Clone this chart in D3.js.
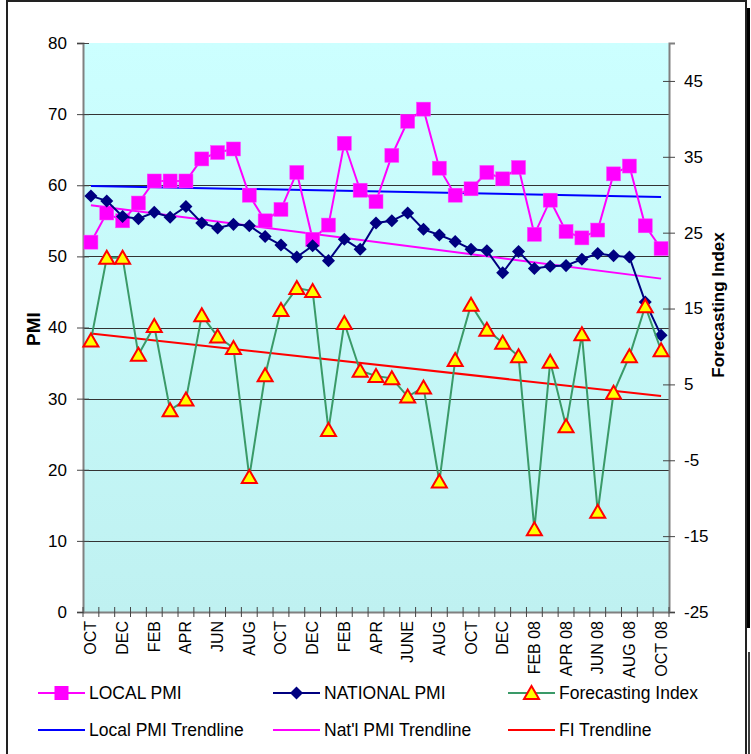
<!DOCTYPE html>
<html><head><meta charset="utf-8">
<script src="https://cdn.jsdelivr.net/npm/d3@7"></script>
<style>body{margin:0;background:#fff}svg{display:block;font-family:"Liberation Sans",Arial,sans-serif}</style>
</head><body><svg id="c" width="751" height="754"></svg>
<script>
const categories = ["OCT","NOV","DEC","JAN","FEB","MAR","APR","MAY","JUN","JUL","AUG","SEP",
  "OCT","NOV","DEC","JAN","FEB","MAR","APR","MAY","JUNE","JUL","AUG","SEP",
  "OCT","NOV","DEC","JAN 08","FEB 08","MAR 08","APR 08","MAY 08","JUN 08","JUL 08","AUG 08","SEP 08","OCT 08"];
const localPMI = [52.0,56.1,55.0,57.5,60.6,60.6,60.6,63.7,64.6,65.1,58.6,55.0,56.6,61.8,52.4,54.4,65.9,59.3,57.7,
  64.2,69.0,70.7,62.4,58.6,59.5,61.8,60.9,62.5,53.1,57.9,53.5,52.6,53.7,61.6,62.7,54.3,51.1];
const nationalPMI = [58.5,57.8,55.6,55.3,56.2,55.5,57.0,54.7,54.0,54.5,54.3,52.8,51.6,49.9,51.5,49.4,52.4,51.0,54.7,
  55.0,56.1,53.8,53.0,52.1,51.0,50.8,47.7,50.7,48.3,48.6,48.7,49.6,50.4,50.1,49.9,43.6,38.9];
const forecastIndex = [10.8,21.7,21.7,8.9,12.7,1.6,3.0,14.1,11.3,9.8,-7.2,6.2,14.8,17.7,17.3,-1.0,13.1,6.8,6.1,
  5.8,3.4,4.6,-7.8,8.2,15.5,12.2,10.5,8.7,-14.1,8.0,-0.5,11.6,-11.8,3.9,8.7,15.3,9.5];
const leftTicks = [0,10,20,30,40,50,60,70,80];
const rightTicks = [-25,-15,-5,5,15,25,35,45];

const svg = d3.select("#c");
const L = 83, R = 669, T = 43, B = 612;
const x = d3.scaleBand().domain(d3.range(categories.length)).range([L, R]);
const cx = i => x(i) + x.bandwidth()/2;
const yL = d3.scaleLinear().domain([0,80]).range([B,T]);
const yR = d3.scaleLinear().domain([-25,50]).range([B,T]);

// background
const defs = svg.append("defs");
const g = defs.append("linearGradient").attr("id","bg").attr("x1",0).attr("x2",0).attr("y1",0).attr("y2",1);
g.append("stop").attr("offset","0%").attr("stop-color","#ccffff");
g.append("stop").attr("offset","100%").attr("stop-color","#bff1f1");
svg.append("rect").attr("x",L).attr("y",T).attr("width",R-L).attr("height",B-T).attr("fill","url(#bg)");

// outer border + shadow
svg.append("rect").attr("x",7).attr("y",1).attr("width",739).attr("height",770).attr("fill","none").attr("stroke","#222").attr("stroke-width",2);
svg.append("rect").attr("x",747).attr("y",8).attr("width",3).attr("height",620).attr("fill","#000");
svg.append("line").attr("x1",749).attr("x2",749).attr("y1",652).attr("y2",754).attr("stroke","#000").attr("stroke-width",1.5);

// gridlines
svg.append("g").selectAll("line").data(leftTicks.filter(d=>d>0&&d<80)).join("line")
  .attr("x1",L).attr("x2",R).attr("y1",d=>Math.round(yL(d))+0.5).attr("y2",d=>Math.round(yL(d))+0.5)
  .attr("stroke","#333").attr("stroke-width",1);

// axes
const fmt = d => String(d);
const axL = svg.append("g").attr("transform",`translate(${L},0)`)
  .call(d3.axisLeft(yL).tickValues(leftTicks).tickFormat(fmt).tickSize(6).tickPadding(10));
axL.selectAll(".tick line").attr("x2",6).attr("x1",-6).attr("stroke","#444");
const axR = svg.append("g").attr("transform",`translate(${R},0)`)
  .call(d3.axisRight(yR).tickValues(rightTicks).tickFormat(fmt).tickSize(6).tickPadding(9));
axR.selectAll(".tick line").attr("x1",-6).attr("x2",6).attr("stroke","#444");
const axB = svg.append("g").attr("transform",`translate(0,${B})`)
  .call(d3.axisBottom(x).tickValues([]).tickSizeOuter(0));
axB.selectAll("line.bt").data(d3.range(categories.length+1)).join("line").attr("class","bt")
  .attr("x1",i=>L + i*x.bandwidth()).attr("x2",i=>L + i*x.bandwidth()).attr("y1",-5).attr("y2",5).attr("stroke","#444");
[axL,axR,axB].forEach(a=>{a.select(".domain").attr("stroke","#808080").attr("stroke-width",2);
  a.selectAll("text").attr("font-size",17).attr("fill","#000").attr("font-family","'Liberation Sans',Arial,sans-serif");});
axB.selectAll(".xl").data(d3.range(0,categories.length,2)).join("text").attr("class","xl")
  .attr("transform",i=>`translate(${cx(i)+5.5},${621-B}) rotate(-90)`)
  .attr("text-anchor","end").attr("font-size",16).attr("fill","#000").text(i=>categories[i]);

// axis titles
svg.append("text").attr("transform","translate(40,329) rotate(-90)").attr("text-anchor","middle")
  .attr("font-weight","bold").attr("font-size",19).text("PMI");
svg.append("text").attr("transform","translate(724,305) rotate(-90)").attr("text-anchor","middle")
  .attr("font-weight","bold").attr("font-size",17).text("Forecasting Index");

// trendlines (least squares)
function trend(vals){
  const n=vals.length, xs=d3.range(n), mx=d3.mean(xs), my=d3.mean(vals);
  const b=d3.sum(xs,(xi)=> (xi-mx)*(vals[xi]-my))/d3.sum(xs,xi=>(xi-mx)**2);
  const a=my-b*mx; return [[0,a],[n-1,a+b*(n-1)]];
}
const tl = (vals,ys,color)=>svg.append("path").datum(trend(vals))
  .attr("d",d3.line().x(d=>cx(d[0])).y(d=>ys(d[1]))).attr("stroke",color).attr("stroke-width",2).attr("fill","none");
tl(localPMI,yL,"#0000ff");
tl(nationalPMI,yL,"#ff00ff");
tl(forecastIndex,yR,"#ff0000");

const idx = d3.range(categories.length);
function series(vals,ys,color){
  svg.append("path").datum(idx).attr("d",d3.line().x(i=>cx(i)).y(i=>ys(vals[i])))
    .attr("stroke",color).attr("stroke-width",2).attr("fill","none");
}
series(localPMI,yL,"#ff00ff");
svg.append("g").selectAll("rect").data(idx).join("rect")
  .attr("x",i=>cx(i)-7).attr("y",i=>yL(localPMI[i])-7).attr("width",14).attr("height",14)
  .attr("fill","#ff00ff").attr("stroke","#ff44ff").attr("stroke-width",0.5);
series(nationalPMI,yL,"#000080");
svg.append("g").selectAll("path").data(idx).join("path")
  .attr("d",d3.symbol().type(d3.symbolSquare).size(85)).attr("transform",i=>`translate(${cx(i)},${yL(nationalPMI[i])}) rotate(45)`)
  .attr("fill","#000080");
series(forecastIndex,yR,"#3a9a68");
const tri = "M0,-7 L7.5,6 L-7.5,6 Z";
svg.append("g").selectAll("path").data(idx).join("path")
  .attr("transform",i=>`translate(${cx(i)},${yR(forecastIndex[i])})`).attr("d",tri)
  .attr("fill","#ffff00").attr("stroke","#ff0000").attr("stroke-width",2).attr("stroke-linejoin","miter");

// legend
const leg = svg.append("g").attr("font-size",17.5);
function legItem(x0,y,color,label,marker){
  leg.append("line").attr("x1",x0).attr("x2",x0+47).attr("y1",y).attr("y2",y).attr("stroke",color).attr("stroke-width",2);
  const m = x0+23.5;
  if(marker==="sq") leg.append("rect").attr("x",m-7).attr("y",y-7).attr("width",14).attr("height",14).attr("fill","#ff00ff");
  if(marker==="di") leg.append("path").attr("d",d3.symbol().type(d3.symbolSquare).size(85)).attr("transform",`translate(${m},${y}) rotate(45)`).attr("fill","#000080");
  if(marker==="tr") leg.append("path").attr("d",tri).attr("transform",`translate(${m},${y})`).attr("fill","#ffff00").attr("stroke","#ff0000").attr("stroke-width",2);
  leg.append("text").attr("x",x0+51).attr("y",y).attr("dy","0.35em").text(label);
}
legItem(38,693,"#ff00ff","LOCAL PMI","sq");
legItem(273,693,"#000080","NATIONAL PMI","di");
legItem(508,693,"#3a9a68","Forecasting Index","tr");
legItem(38,730,"#0000ff","Local PMI Trendline");
legItem(273,730,"#ff00ff","Nat'l PMI Trendline");
legItem(508,730,"#ff0000","FI Trendline");
</script></body></html>
